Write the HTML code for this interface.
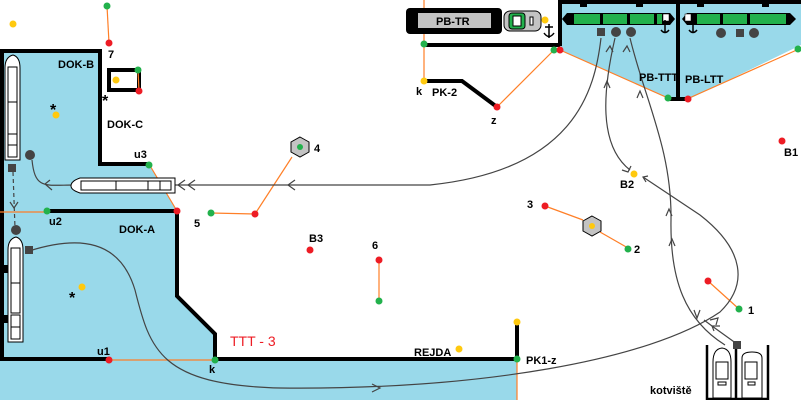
<!DOCTYPE html>
<html><head><meta charset="utf-8"><style>
html,body{margin:0;padding:0;background:#fff;}
svg{display:block;}
text{font-family:"Liberation Sans",sans-serif;font-size:11px;font-weight:bold;fill:#000;}
</style></head><body>
<svg width="801" height="400" viewBox="0 0 801 400" xmlns="http://www.w3.org/2000/svg">
<polygon points="0,50 100,50 100,164 149,164 177,211 177,296 215,334 215,359 517,359 517,400 0,400" fill="#99d9ea"/>
<polygon points="560,2 677,2 677,100 668,98 560,50" fill="#99d9ea"/>
<polygon points="677,2 801,2 801,45 687,100 677,100" fill="#99d9ea"/>
<g stroke="#000" stroke-width="4" fill="none">
<polyline points="2,360 2,51 100,51 100,164 149,164"/>
<line x1="47" y1="211" x2="177" y2="211"/>
<polyline points="177,211 177,296 215,334 215,359"/>
<line x1="0" y1="359" x2="108" y2="359"/>
<line x1="215" y1="359" x2="517" y2="359"/>
<line x1="517" y1="359" x2="517" y2="322"/>
<rect x="109" y="70" width="30" height="20"/>
<polyline points="424,81 462,81 497,107"/>
<line x1="424" y1="45" x2="560" y2="45"/>
<polyline points="560,46 560,2 801,2"/>
<line x1="678" y1="2" x2="678" y2="100"/>
<line x1="668" y1="99" x2="687" y2="99"/>
</g>
<g stroke="#ff7f27" stroke-width="1.2" fill="none">
<line x1="107" y1="6" x2="109" y2="43"/>
<line x1="138" y1="70" x2="139" y2="91"/>
<line x1="149" y1="164" x2="177" y2="211"/>
<line x1="0" y1="212" x2="47" y2="212"/>
<line x1="108" y1="360" x2="215" y2="360"/>
<line x1="517" y1="359" x2="517" y2="400"/>
<line x1="211" y1="213" x2="255" y2="214"/>
<line x1="255" y1="214" x2="292" y2="157"/>
<line x1="379" y1="260" x2="379" y2="301"/>
<line x1="424" y1="0" x2="424" y2="81"/>
<line x1="497" y1="107" x2="554" y2="50"/>
<polyline points="560,50 668,98"/>
<polyline points="687,99 799,49"/>
<line x1="545" y1="206" x2="583" y2="220"/>
<line x1="600" y1="232" x2="628" y2="248"/>
<line x1="708" y1="281" x2="739" y2="309"/>
</g>
<g stroke="#444" stroke-width="1.2" fill="none">
<path d="M601,38 C595,90 575,170 430,185 L175,185"/>
<path d="M615,38 C603,90 598,145 630,170"/>
<path d="M630,38 C645,100 672,150 671,220 C670,280 685,320 725,345"/>
<path d="M29,251 C80,235 120,240 135,290 C150,350 160,385 280,388 C480,390 650,360 720,312 C748,285 745,250 700,215 L643,177"/>
<path d="M737,344 L712,326 L704,320"/>
<path d="M32,160 C35,190 45,185 75,185"/>
<path d="M13,172 L15,228" stroke-dasharray="4,3"/>
<path d="M185,180 L178,185 L185,190 M195,180 L188,185 L195,190 M295,180 L288,185 L295,190"/>
<path d="M50,180 L45,184 L52,190"/>
<path d="M10,202 L14,208 L18,202"/>
<path d="M622,170 L628,172 L631,166"/>
<path d="M648,176 L643,177 L646,182"/>
<path d="M606,52 L610,46 L613,52 M623,52 L627,46 L630,52"/>
<path d="M604,88 L607,81 L610,88 M637,98 L640,91 L643,98"/>
<path d="M666,216 L669,209 L672,216 M669,246 L672,239 L675,246"/>
<path d="M694,310 L697,318 L700,310 M710,320 L718,318 L716,325 M714,331 L712,326 L720,326"/>
<path d="M372,384 L380,388 L372,392"/>
</g>
<g stroke="#000" stroke-width="1" fill="#fff">
<path d="M5,160 L5,68 Q5,57 13,55 Q20,57 20,68 L20,160 Z"/>
<rect x="8" y="67" width="9" height="68"/><line x1="8" y1="102" x2="17" y2="102"/>
<rect x="8" y="134" width="9" height="23"/><line x1="8" y1="145" x2="17" y2="145"/>
</g>
<g stroke="#000" stroke-width="1" fill="#fff">
<path d="M8,342 L8,250 Q8,239 16,237 Q23,239 23,250 L23,342 Z"/>
<rect x="11" y="248" width="9" height="65"/><line x1="11" y1="283" x2="20" y2="283"/>
<rect x="11" y="315" width="9" height="24"/><line x1="11" y1="327" x2="20" y2="327"/>
</g>
<rect x="3" y="265" width="5" height="8" fill="#000"/><rect x="3" y="315" width="5" height="8" fill="#000"/>
<g stroke="#000" stroke-width="1" fill="#fff">
<path d="M80,178 L175,178 L175,193 L80,193 Q71,190 71,186 Q71,181 80,178 Z"/>
<rect x="81" y="181" width="90" height="9"/>
<line x1="116" y1="181" x2="116" y2="190"/><line x1="148" y1="181" x2="148" y2="190"/><line x1="160" y1="181" x2="160" y2="190"/>
</g>
<circle cx="30" cy="155" r="5" fill="#444"/><rect x="8" y="164" width="8" height="8" fill="#444"/>
<circle cx="16" cy="230" r="5" fill="#444"/><rect x="25" y="246" width="8" height="8" fill="#444"/>
<rect x="406" y="8" width="96" height="26" rx="4" fill="#000"/>
<rect x="418" y="13" width="73" height="15" fill="#c3c3c3"/>
<text x="436" y="25">PB-TR</text>
<rect x="504" y="11" width="37" height="20" rx="6" fill="#c3c3c3" stroke="#000"/>
<rect x="509" y="13" width="16" height="16" rx="3" fill="#22b14c" stroke="#000"/>
<rect x="513" y="16" width="8" height="10" fill="#fff" stroke="#000"/>
<rect x="530" y="17" width="3" height="8" fill="#fff" stroke="#000"/>
<path d="M567,13 L670,13 L675,19 L670,25 L567,25 L562,19 Z" fill="#000"/>
<g fill="#22b14c"><rect x="574" y="14" width="26" height="10"/><rect x="603" y="14" width="24" height="10"/><rect x="630" y="14" width="24" height="10"/><rect x="657" y="14" width="5" height="10"/></g>
<rect x="663" y="14" width="6" height="7" fill="#fff" stroke="#000" stroke-width="0.5"/>
<path d="M687,13 L790,13 L796,19 L790,25 L687,25 L682,19 Z" fill="#000"/>
<g fill="#22b14c"><rect x="697" y="14" width="23" height="10"/><rect x="723" y="14" width="24" height="10"/><rect x="750" y="14" width="36" height="10"/></g>
<rect x="685" y="14" width="6" height="7" fill="#fff" stroke="#000" stroke-width="0.5"/>
<g fill="#000"><rect x="580" y="4" width="7" height="3"/><rect x="636" y="4" width="7" height="3"/><rect x="697" y="4" width="7" height="3"/><rect x="762" y="4" width="7" height="3"/></g>
<rect x="597" y="28" width="8" height="8" fill="#444"/><circle cx="616" cy="32" r="5" fill="#444"/><circle cx="631" cy="32" r="5" fill="#444"/>
<circle cx="721" cy="33" r="5" fill="#444"/><rect x="736" y="29" width="8" height="8" fill="#444"/><circle cx="754" cy="33" r="5" fill="#444"/>
<g stroke="#000" stroke-width="1.5" fill="none">
<path d="M549,24 L549,38 M545,27 L553,27 M544,33 Q549,40 554,33"/>
<path d="M665,20 L665,32 M661,30 Q665,35 669,30"/>
<path d="M693,20 L693,32 M689,30 Q693,35 697,30"/>
</g>
<polygon points="300,137 309,142 309,152 300,157 291,152 291,142" fill="#c3c3c3" stroke="#000"/>
<polygon points="592,216 601,221 601,231 592,236 583,231 583,221" fill="#c3c3c3" stroke="#000"/>
<g stroke="#000" stroke-width="1" fill="#fff">
<path d="M713,398 L713,362 Q713,349 722,348 Q731,349 731,362 L731,398 Z"/>
<rect x="716" y="362" width="12" height="17"/><rect x="718" y="382" width="8" height="3"/>
<path d="M742,398 L742,358 Q742,352 752,352 Q762,352 762,358 L762,398 Z"/>
<rect x="745" y="362" width="12" height="17"/><rect x="748" y="382" width="7" height="3"/>
</g>
<path d="M707,345 L707,399 L768,399 L768,345" stroke="#000" stroke-width="2.5" fill="none"/>
<line x1="736" y1="348" x2="736" y2="399" stroke="#000" stroke-width="2.5"/>
<rect x="733" y="341" width="8" height="8" fill="#444"/>
<g fill="#22b14c">
<circle cx="107" cy="6" r="3.5"/><circle cx="138" cy="70" r="3.5"/><circle cx="149" cy="165" r="3.5"/><circle cx="47" cy="211" r="3.5"/>
<circle cx="215" cy="360" r="3.5"/><circle cx="211" cy="213" r="3.5"/><circle cx="300" cy="147" r="3"/><circle cx="379" cy="301" r="3.5"/>
<circle cx="517" cy="359" r="3.5"/><circle cx="424" cy="44" r="3.5"/><circle cx="554" cy="50" r="3.5"/><circle cx="668" cy="98" r="3.5"/>
<circle cx="798" cy="49" r="3.5"/><circle cx="628" cy="249" r="3.5"/><circle cx="739" cy="309" r="3.5"/>
</g>
<g fill="#ed1c24">
<circle cx="109" cy="43" r="3.5"/><circle cx="139" cy="91" r="3.5"/><circle cx="177" cy="211" r="3.5"/><circle cx="109" cy="360" r="3.5"/>
<circle cx="255" cy="214" r="3.5"/><circle cx="310" cy="250" r="3.5"/><circle cx="379" cy="260" r="3.5"/><circle cx="497" cy="107" r="3.5"/>
<circle cx="560" cy="50" r="3.5"/><circle cx="688" cy="99" r="3.5"/><circle cx="545" cy="206" r="3.5"/><circle cx="708" cy="281" r="3.5"/>
<circle cx="782" cy="141" r="3.5"/>
</g>
<g fill="#ffc90e">
<circle cx="13" cy="24" r="3.5"/><circle cx="116" cy="80" r="3.5"/><circle cx="56" cy="115" r="3.5"/><circle cx="82" cy="287" r="3.5"/>
<circle cx="459" cy="349" r="3.5"/><circle cx="517" cy="322" r="3.5"/><circle cx="424" cy="81" r="3.5"/><circle cx="545" cy="20" r="3.5"/>
<circle cx="592" cy="226" r="3"/><circle cx="634" cy="174" r="3.5"/>
</g>
<text x="108" y="58">7</text>
<text x="58" y="68">DOK-B</text>
<text x="107" y="128">DOK-C</text>
<text x="134" y="158">u3</text>
<text x="49" y="225">u2</text>
<text x="119" y="233">DOK-A</text>
<text x="97" y="355">u1</text>
<text x="209" y="373">k</text>
<text x="194" y="227">5</text>
<text x="314" y="152">4</text>
<text x="309" y="242">B3</text>
<text x="372" y="249">6</text>
<text x="414" y="356">REJDA</text>
<text x="526" y="364">PK1-z</text>
<text x="416" y="95">k</text>
<text x="432" y="96">PK-2</text>
<text x="491" y="124">z</text>
<text x="639" y="81">PB-TTT</text>
<text x="685" y="83">PB-LTT</text>
<text x="527" y="208">3</text>
<text x="634" y="253">2</text>
<text x="620" y="188">B2</text>
<text x="784" y="156">B1</text>
<text x="748" y="314">1</text>
<text x="650" y="394">kotviště</text>
<text x="230" y="346" style="font-weight:normal;font-size:14px;fill:#ed1c24">TTT - 3</text>
<text x="102" y="106" style="font-size:16px">*</text>
<text x="50" y="115" style="font-size:16px">*</text>
<text x="69" y="303" style="font-size:16px">*</text>
</svg>
</body></html>
